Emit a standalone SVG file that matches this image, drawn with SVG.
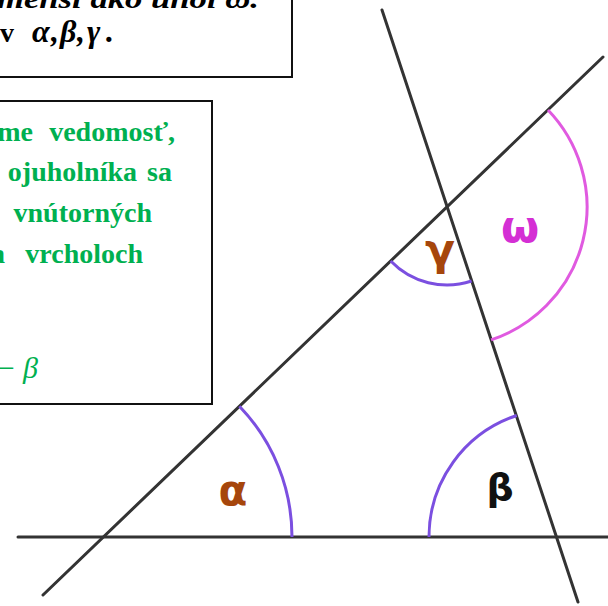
<svg xmlns="http://www.w3.org/2000/svg" width="608" height="606" viewBox="0 0 608 606">
<style>
.box{fill:#fff;stroke:#111;stroke-width:2}
.ln{stroke:#333;stroke-width:3;fill:none;stroke-linecap:round}
.arc{fill:none;stroke:#7b4fe0;stroke-width:3}
.arcw{fill:none;stroke:#e05ae0;stroke-width:3}
.t1{font-family:"Liberation Serif",serif;font-weight:bold;font-style:italic;font-size:28px;fill:#000}
.tg{font-family:"Liberation Serif",serif;font-weight:bold;font-style:italic;font-size:32px;fill:#000}
.tv{font-family:"Liberation Serif",serif;font-weight:bold;font-size:28px;fill:#000}
.g{font-family:"Liberation Serif",serif;font-weight:bold;font-size:28px;fill:#00b050;text-anchor:end}
.gi{font-family:"Liberation Serif",serif;font-style:italic;font-size:30px;fill:#00b050}
.lab{font-family:"DejaVu Sans",sans-serif;font-weight:bold;text-anchor:middle}
</style>
<rect width="608" height="606" fill="#fff"/>
<g id="box-top">
<rect class="box" x="-5" y="-5" width="297" height="82"/>
<text class="t1" x="-3" y="8" textLength="262" lengthAdjust="spacingAndGlyphs">menší ako uhol ω.</text>
<text class="tv" y="42"><tspan x="0">v</tspan></text>
<text class="tg" y="42"><tspan x="32">α</tspan><tspan x="51">,</tspan><tspan x="60">β</tspan><tspan x="77">,</tspan><tspan x="87">γ</tspan><tspan x="106">.</tspan></text>
</g>
<g id="box-green">
<rect class="box" x="-5" y="101" width="217" height="303"/>
<text class="g" y="141"><tspan x="33">me</tspan><tspan x="175">vedomosť,</tspan></text>
<text class="g" y="181"><tspan x="137">ojuholníka</tspan><tspan x="172">sa</tspan></text>
<text class="g" y="222"><tspan x="152">vnútorných</tspan></text>
<text class="g" y="263"><tspan x="5">a</tspan><tspan x="143">vrcholoch</tspan></text>
<text class="gi" y="378"><tspan x="-4">−</tspan><tspan x="23">β</tspan></text>
</g>
<g id="connectors">
<line class="ln" x1="18" y1="537" x2="608" y2="537"/>
<line class="ln" x1="43" y1="595" x2="603" y2="57"/>
<line class="ln" x1="382" y1="10" x2="578" y2="602"/>
</g>
<g id="angle-alpha">
<path class="arc" d="M292,537 A189,189 0 0 0 239.4,406.2"/>
<text class="lab" x="233" y="505" font-size="42" fill="#a6460c">α</text>
</g>
<g id="angle-beta">
<path class="arc" d="M429,537 A128,128 0 0 1 516.7,415.5"/>
<text class="lab" x="500" y="500" font-size="38" fill="#111">β</text>
</g>
<g id="angle-gamma">
<path class="arc" d="M390.7,261 A78,78 0 0 0 471.6,281"/>
<text class="lab" x="440" y="265" font-size="44" fill="#a6460c">γ</text>
</g>
<g id="angle-omega">
<path class="arcw" d="M548,110 A140,140 0 0 1 491.1,339.9"/>
<text class="lab" x="520" y="242" font-size="44" fill="#d42fd4">ω</text>
</g>
</svg>
